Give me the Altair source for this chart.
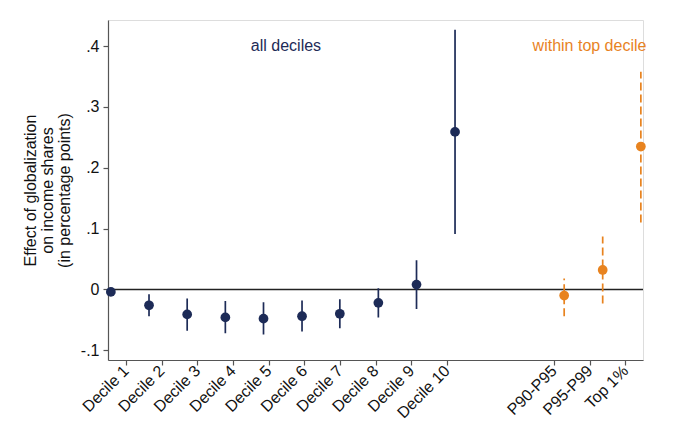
import json
import altair as alt
import pandas as pd

# ---- data ----
labels = ["Decile 1", "Decile 2", "Decile 3", "Decile 4", "Decile 5",
          "Decile 6", "Decile 7", "Decile 8", "Decile 9", "Decile 10",
          "P90-P95", "P95-P99", "Top 1%"]
tick_pos = [1, 2, 3, 4, 5, 6, 7, 8, 9, 10, 13, 14, 15]
point_x = [0.58, 1.65, 2.72, 3.79, 4.86, 5.94, 7.0, 8.08, 9.15, 10.23,
           13.29, 14.37, 15.44]
estimate = [-0.004, -0.026, -0.041, -0.046, -0.048, -0.044, -0.040, -0.022,
            0.008, 0.259, -0.010, 0.032, 0.235]
ci_low = [-0.007, -0.044, -0.068, -0.072, -0.074, -0.069, -0.064, -0.046,
          -0.032, 0.091, -0.044, -0.023, 0.110]
ci_high = [-0.001, -0.008, -0.015, -0.019, -0.021, -0.018, -0.016, 0.002,
           0.048, 0.427, 0.018, 0.087, 0.358]
group = ["all deciles"] * 10 + ["within top decile"] * 3
y_ticks = [-0.1, 0, 0.1, 0.2, 0.3, 0.4]
y_title = ["Effect of globalization", "on income shares", "(in percentage points)"]
annot_text = ["all deciles", "within top decile"]
annot_x = [5.49, 14.0]
annot_y = [0.4, 0.4]

NAVY = "#1d2b57"
ORANGE = "#e8831f"
FONT = "Liberation Sans"

df = pd.DataFrame({"label": labels, "x": point_x, "est": estimate,
                   "lo": ci_low, "hi": ci_high, "group": group})
ann = pd.DataFrame({"text": annot_text, "x": annot_x, "y": annot_y, "group": annot_text})

label_arr = [""] * 16
for p, l in zip(tick_pos, labels):
    label_arr[p] = l
x_label_expr = json.dumps(label_arr) + "[datum.value]"

color_scale = alt.Scale(domain=["all deciles", "within top decile"], range=[NAVY, ORANGE])
xscale = alt.Scale(domain=[0.5, 15.5], nice=False, zero=False)
yscale = alt.Scale(domain=[-0.116, 0.443], nice=False, zero=False)

x_axis = alt.Axis(values=tick_pos, labelExpr=x_label_expr, labelAngle=-45,
                  labelAlign="right", labelBaseline="middle", labelFontSize=16,
                  labelPadding=3, tickSize=5, grid=False, title=None,
                  domainColor="#555", tickColor="#555", labelColor="#111",
                  labelFont=FONT, labelOverlap=False, labelBound=False,
                  labelFlush=False, domainWidth=1.2, tickWidth=1.2)

y_axis = alt.Axis(values=y_ticks,
                  labelExpr="datum.value == 0 ? '0' : (datum.value < 0 ? '-.' : '.') + round(abs(datum.value) * 10)",
                  labelFontSize=16, labelPadding=4, tickSize=5, grid=False,
                  domainColor="#555", tickColor="#555", labelColor="#111",
                  labelFont=FONT, labelOverlap=False, labelFlush=False,
                  domainWidth=1.2, tickWidth=1.2,
                  title=y_title, titleFont=FONT, titleFontSize=16,
                  titleFontWeight="normal", titleColor="#111",
                  titleX=-78, titleY=170, titleAlign="center",
                  titleBaseline="middle", titleLineHeight=17)

base = alt.Chart(df)

zero = alt.Chart(pd.DataFrame({"y": [0]})).mark_rule(
    color="#222", strokeWidth=1.5).encode(y=alt.Y("y:Q", scale=yscale, axis=y_axis))

ci = base.mark_rule(strokeWidth=1.7).encode(
    x=alt.X("x:Q", scale=xscale, axis=x_axis),
    y=alt.Y("lo:Q", scale=yscale, axis=y_axis),
    y2="hi:Q",
    color=alt.Color("group:N", scale=color_scale, legend=None),
    strokeDash=alt.StrokeDash("group:N",
                              scale=alt.Scale(domain=["all deciles", "within top decile"],
                                              range=[[1, 0], [8, 4]]),
                              legend=None),
)

pts = base.mark_circle(size=95, opacity=1).encode(
    x=alt.X("x:Q", scale=xscale, axis=x_axis),
    y=alt.Y("est:Q", scale=yscale, axis=y_axis),
    color=alt.Color("group:N", scale=color_scale, legend=None),
)

txt = alt.Chart(ann).mark_text(fontSize=16, font=FONT, align="center",
                               baseline="middle").encode(
    x=alt.X("x:Q", scale=xscale, axis=x_axis),
    y=alt.Y("y:Q", scale=yscale, axis=y_axis),
    text="text:N",
    color=alt.Color("group:N", scale=color_scale, legend=None),
)

chart = alt.layer(zero, ci, pts, txt).properties(
    width=535, height=340,
    autosize=alt.AutoSizeParams(type="none"),
    padding={"left": 100, "top": 12, "right": 29, "bottom": 74},
    background="white",
).configure_view(stroke=None).configure(font=FONT)

chart.save("out.html", embed_options={"renderer": "svg", "actions": False})
